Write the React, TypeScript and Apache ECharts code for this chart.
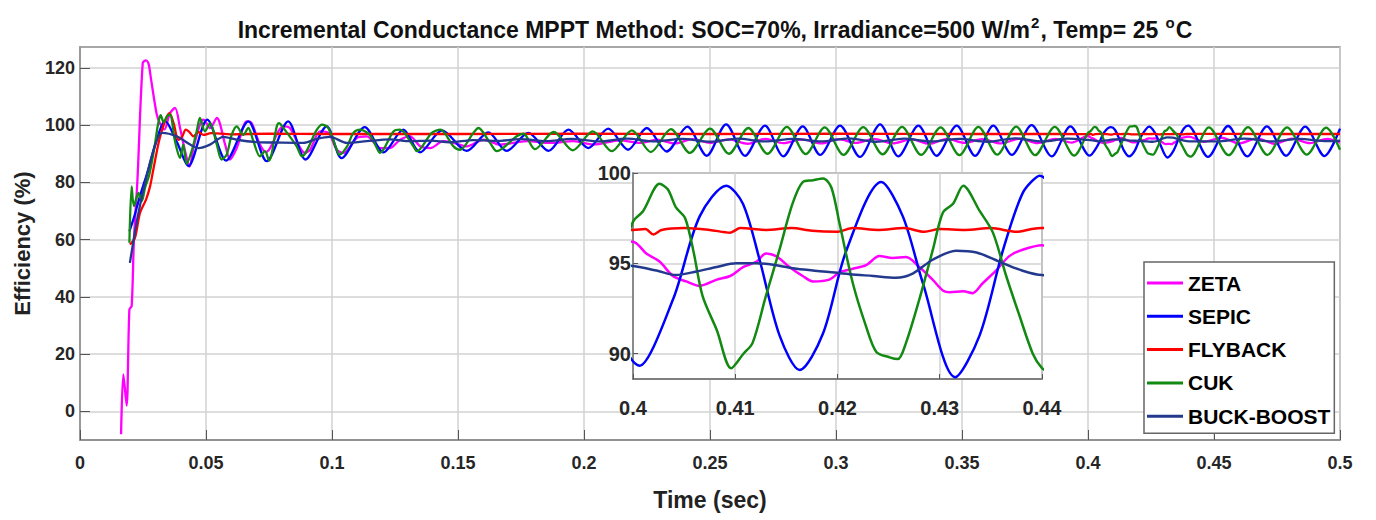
import { useEffect, useRef } from "react";
import * as echarts from "echarts";

// ---------- data ----------
const seriesNames = ["ZETA", "SEPIC", "FLYBACK", "CUK", "BUCK-BOOST"];
const seriesColors = ["#ff00ff", "#0000ff", "#ff0000", "#128a12", "#22398e"];

const yTicks = [0, 20, 40, 60, 80, 100, 120];
const insetYTicks = [90, 95, 100];

const zetaData: number[][] = [
  [0.0163, -8.0], [0.0172, 12.9], [0.0185, 2.0], [0.0196, 35.6], [0.0205, 36.8], [0.0214, 60.0],
  [0.0228, 81.0], [0.0249, 121.7], [0.0262, 122.6], [0.0272, 121.5], [0.0282, 116.0], [0.0304, 104.0],
  [0.0317, 100.7], [0.0335, 98.5], [0.0357, 104.2], [0.0377, 106.0], [0.0397, 99.0], [0.0417, 90.9],
  [0.0435, 85.5], [0.045, 92.0], [0.0476, 100.2], [0.049, 101.9], [0.0516, 99.0], [0.0543, 102.5],
  [0.0576, 93.2], [0.0595, 88.0], [0.0622, 92.0], [0.0662, 101.3], [0.0681, 100.7], [0.0714, 93.2],
  [0.0738, 90.6], [0.0807, 99.6], [0.0833, 99.0], [0.0893, 90.3], [0.0913, 91.4], [0.0953, 97.8],
  [0.0986, 97.3], [0.1019, 91.4], [0.1046, 90.3], [0.1098, 95.5], [0.1138, 96.1], [0.1191, 92.0],
  [0.123, 92.0], [0.127, 94.9], [0.131, 96.1], [0.135, 92.6], [0.139, 92.0], [0.1442, 94.4],
  [0.1482, 93.8], [0.1535, 92.6], [0.1601, 94.9], [0.1667, 93.2], [0.1773, 94.4], [0.1866, 93.8],
  [0.1958, 94.4], [0.2038, 93.2], [0.2143, 94.7], [0.2222, 93.8], [0.229, 94.9], [0.236, 93.6],
  [0.243, 95.1], [0.25, 93.8], [0.2575, 95.0], [0.265, 93.5], [0.272, 95.2], [0.279, 93.7],
  [0.2865, 95.0], [0.294, 93.6], [0.301, 95.1], [0.308, 93.8], [0.315, 95.2], [0.3225, 93.6],
  [0.33, 95.0], [0.337, 93.5], [0.344, 95.2], [0.351, 93.8], [0.358, 95.1], [0.3655, 93.6],
  [0.373, 95.3], [0.38, 93.7], [0.387, 95.2], [0.3935, 93.9],
  [0.4, 96.2], [0.4013, 95.55], [0.4026, 95.1], [0.4039, 94.3], [0.4052, 94.0], [0.4065, 93.75],
  [0.4082, 94.1], [0.4095, 94.3], [0.4108, 94.8], [0.4121, 95.1], [0.413, 95.55], [0.414, 95.4],
  [0.4153, 94.8], [0.4166, 94.3], [0.4176, 94.0], [0.4192, 94.1], [0.4202, 94.5], [0.4215, 94.7],
  [0.4228, 94.9], [0.4241, 95.4], [0.4254, 95.3], [0.4267, 95.35], [0.428, 94.8], [0.4293, 94.1],
  [0.4303, 93.5], [0.431, 93.4], [0.4323, 93.45], [0.4332, 93.35], [0.4342, 93.9], [0.4355, 94.6],
  [0.4368, 95.4], [0.4381, 95.75], [0.44, 96.0],
  [0.446, 94.2], [0.453, 95.6], [0.46, 93.6], [0.467, 95.4], [0.474, 93.5], [0.481, 95.3],
  [0.488, 93.7], [0.495, 95.2], [0.5, 94.0],
];

const sepicData: number[][] = [
  [0.0196, 62.9], [0.0215, 68.0], [0.0238, 75.2], [0.0271, 84.5], [0.0305, 95.0], [0.0337, 101.5],
  [0.0385, 94.0], [0.043, 85.7], [0.0505, 101.9], [0.058, 87.6], [0.0668, 101.3], [0.0741, 87.4],
  [0.0826, 101.3], [0.0895, 88.0], [0.0979, 99.6], [0.1038, 88.5], [0.113, 99.3], [0.1204, 90.5],
  [0.1283, 98.4], [0.1349, 90.5], [0.1437, 98.2], [0.1534, 91.0], [0.162, 97.5], [0.1693, 91.0],
  [0.1779, 97.3], [0.1859, 91.0], [0.1938, 98.4], [0.2017, 92.0], [0.2096, 98.8], [0.2175, 91.4],
  [0.2249, 99.0], [0.2328, 90.8], [0.241, 99.5], [0.2487, 89.3], [0.2564, 100.3], [0.2639, 89.3],
  [0.2718, 99.8], [0.2791, 89.1], [0.2868, 99.6], [0.2937, 89.6], [0.3016, 99.8], [0.3095, 88.9],
  [0.3175, 100.3], [0.3247, 89.1], [0.3327, 99.8], [0.3399, 89.3], [0.3479, 99.8], [0.3552, 89.3],
  [0.3624, 99.8], [0.3698, 89.6], [0.3776, 100.0], [0.3856, 89.1], [0.393, 99.6],
  [0.40065, 89.34], [0.40391, 93.0], [0.40652, 97.6], [0.40913, 99.3], [0.41075, 98.3],
  [0.41238, 95.2], [0.41434, 91.0], [0.4163, 89.1], [0.41857, 91.1], [0.42086, 95.7],
  [0.42428, 99.5], [0.42639, 97.6], [0.42835, 93.9], [0.43151, 88.7], [0.43389, 91.0],
  [0.43617, 95.7], [0.43812, 98.9], [0.43976, 99.85],
  [0.4476, 88.9], [0.4556, 99.7], [0.4632, 89.1], [0.471, 99.6], [0.4786, 89.3], [0.4862, 99.5],
  [0.4938, 89.2], [0.5, 98.8],
];

const flybackData: number[][] = [
  [0.0198, 58.3], [0.0218, 60.6], [0.0238, 69.3], [0.0262, 74.0], [0.0278, 78.6], [0.0291, 84.5],
  [0.0315, 95.0], [0.034, 102.0], [0.0355, 104.2], [0.0372, 100.5], [0.039, 94.9], [0.0405, 96.0],
  [0.042, 98.4], [0.0435, 97.5], [0.045, 96.1], [0.047, 97.6], [0.049, 96.6], [0.052, 97.2],
  [0.06, 96.8], [0.075, 97.0], [0.1, 96.9], [0.15, 96.9], [0.2, 97.0], [0.25, 96.9], [0.3, 97.0],
  [0.35, 96.9], [0.39, 96.9],
  [0.4, 96.85], [0.4012, 96.9], [0.402, 96.6], [0.4028, 96.85], [0.405, 96.95], [0.4075, 96.85],
  [0.4095, 96.7], [0.4105, 96.95], [0.413, 96.85], [0.4155, 96.95], [0.4175, 96.8], [0.42, 96.75],
  [0.4215, 96.95], [0.424, 96.85], [0.4265, 96.95], [0.4285, 96.75], [0.43, 96.9], [0.4325, 96.85],
  [0.435, 96.95], [0.4375, 96.75], [0.439, 96.9], [0.44, 96.95],
  [0.47, 96.9], [0.5, 96.9],
];

const cukData: number[][] = [
  [0.0196, 58.9], [0.0205, 78.6], [0.0214, 71.7], [0.0232, 76.3], [0.0245, 73.4], [0.0258, 78.1],
  [0.0275, 82.7], [0.0295, 92.0], [0.031, 100.5], [0.032, 103.5], [0.0332, 101.0], [0.0345, 103.0],
  [0.0357, 103.7], [0.0377, 94.4], [0.0397, 88.6], [0.041, 93.2], [0.0423, 86.5], [0.0443, 90.9],
  [0.0463, 97.8], [0.0476, 102.5], [0.0496, 97.8], [0.0516, 100.7], [0.0543, 93.2], [0.0562, 88.0],
  [0.0582, 89.7], [0.0602, 96.6], [0.0622, 99.6], [0.0648, 96.6], [0.0668, 99.0], [0.0688, 94.4],
  [0.0714, 89.1], [0.0734, 90.9], [0.075, 87.6], [0.0781, 99.6], [0.079, 100.7], [0.0807, 99.0],
  [0.086, 92.6], [0.088, 89.1], [0.094, 98.4], [0.096, 100.2], [0.0985, 99.0], [0.1019, 91.4],
  [0.103, 89.7], [0.106, 92.6], [0.1085, 97.3], [0.1112, 98.4], [0.115, 96.6], [0.1178, 92.0],
  [0.119, 90.3], [0.1244, 97.8], [0.127, 98.4], [0.1323, 92.6], [0.1337, 90.9], [0.1396, 97.3],
  [0.143, 98.4], [0.1482, 92.6], [0.1508, 91.4], [0.1561, 97.3], [0.1581, 99.0], [0.1627, 93.8],
  [0.1654, 90.9], [0.1733, 96.1], [0.176, 97.0], [0.1805, 91.6], [0.188, 97.6], [0.1955, 91.2],
  [0.2035, 97.8], [0.211, 90.9], [0.219, 98.2], [0.2265, 90.6], [0.2345, 98.6], [0.242, 90.3],
  [0.25, 98.8], [0.2575, 90.0], [0.2652, 99.0], [0.2728, 90.0], [0.2805, 99.4], [0.288, 89.9],
  [0.2955, 99.2], [0.303, 89.6], [0.3108, 99.3], [0.3185, 89.8], [0.3262, 99.4], [0.3338, 89.6],
  [0.3415, 99.2], [0.349, 89.5], [0.3565, 99.4], [0.364, 89.7], [0.3715, 99.5], [0.379, 89.5],
  [0.3868, 99.4], [0.3945, 89.4],
  [0.4, 97.3], [0.401, 97.9], [0.4026, 99.4], [0.4034, 99.1], [0.4042, 98.1], [0.4051, 97.5],
  [0.4059, 95.7], [0.4068, 93.2], [0.4082, 91.3], [0.4096, 89.2], [0.4108, 90.0], [0.4117, 90.6],
  [0.413, 93.2], [0.4143, 95.7], [0.4156, 98.3], [0.4166, 99.5], [0.4176, 99.6], [0.4186, 99.7],
  [0.4194, 99.2], [0.4202, 97.2], [0.4215, 93.9], [0.4228, 91.5], [0.4238, 90.1], [0.4251, 89.8],
  [0.4259, 89.7], [0.4267, 90.6], [0.428, 93.0], [0.4293, 95.7], [0.4303, 97.8], [0.4313, 98.3],
  [0.4323, 99.3], [0.4339, 97.9], [0.4352, 96.7], [0.4365, 94.3], [0.4378, 92.1], [0.4391, 90.0],
  [0.44, 89.2],
  [0.4407, 89.0], [0.448, 99.2], [0.4558, 89.5], [0.4635, 99.3], [0.4712, 89.6], [0.479, 99.2],
  [0.4868, 89.7], [0.4945, 99.1], [0.5, 91.4],
];

const buckBoostData: number[][] = [
  [0.0198, 51.9], [0.0232, 69.3], [0.0271, 84.5], [0.03, 93.5], [0.0325, 97.3], [0.0384, 96.1],
  [0.0437, 93.2], [0.047, 92.0], [0.0516, 93.2], [0.0569, 95.9], [0.0622, 94.9], [0.07, 94.1],
  [0.08, 93.9], [0.0886, 93.8], [0.094, 95.2], [0.0992, 95.9], [0.1059, 93.8], [0.1138, 94.4],
  [0.123, 95.0], [0.131, 94.4], [0.139, 94.6], [0.1468, 94.0], [0.156, 94.8], [0.165, 94.5],
  [0.175, 95.1], [0.185, 94.4], [0.195, 95.2], [0.206, 94.3], [0.217, 95.3], [0.228, 94.3],
  [0.239, 95.2], [0.25, 94.2], [0.261, 95.3], [0.272, 94.3], [0.283, 95.2], [0.294, 94.3],
  [0.305, 95.4], [0.316, 94.2], [0.327, 95.3], [0.338, 94.3], [0.349, 95.2], [0.36, 94.2],
  [0.371, 95.4], [0.382, 94.3], [0.392, 95.3],
  [0.4, 94.85], [0.4023, 94.6], [0.4042, 94.35], [0.4062, 94.55], [0.4082, 94.8], [0.4101, 95.0],
  [0.4121, 95.0], [0.414, 94.9], [0.416, 94.7], [0.4186, 94.55], [0.4212, 94.4], [0.4235, 94.3],
  [0.4257, 94.2], [0.4274, 94.45], [0.4293, 95.2], [0.4316, 95.7], [0.4336, 95.6], [0.4358, 95.1],
  [0.4378, 94.65], [0.44, 94.35],
  [0.451, 94.3], [0.462, 95.3], [0.473, 94.3], [0.484, 95.2], [0.495, 94.4], [0.5, 94.6],
];

const allData = [zetaData, sepicData, flybackData, cukData, buckBoostData];

// ---------- chart ----------
const FONT = "'Liberation Sans', Arial, Helvetica, sans-serif";

export default function App() {
  const ref = useRef<HTMLDivElement>(null);

  useEffect(() => {
    if (!ref.current) return;
    const chart = echarts.init(ref.current, undefined, { renderer: "svg" });

    const fmt = (v: number) => String(Number(v.toFixed(3)));

    const mainSeries = allData.map((d, i) => ({
      type: "line",
      name: seriesNames[i],
      data: d,
      xAxisIndex: 0,
      yAxisIndex: 0,
      showSymbol: false,
      symbol: "none",
      smooth: 0.3,
      silent: true,
      z: 2 + i * 0.01,
      lineStyle: { color: seriesColors[i], width: 2.3 },
      itemStyle: { color: seriesColors[i] },
    }));
    const insetSeries = allData.map((d, i) => ({
      type: "line",
      name: seriesNames[i],
      data: d,
      xAxisIndex: 1,
      yAxisIndex: 1,
      showSymbol: false,
      symbol: "none",
      smooth: 0.3,
      silent: true,
      z: 12,
      lineStyle: { color: seriesColors[i], width: 2.5 },
      itemStyle: { color: seriesColors[i] },
    }));

    const option: any = {
      animation: false,
      backgroundColor: "#ffffff",
      textStyle: { fontFamily: FONT },
      title: {
        text:
          "{t|Incremental Conductance MPPT Method: SOC=70%, Irradiance=500 W/m}{s|2}{t|, Temp= 25 }{s|o}{t|C}",
        left: 710,
        top: 10,
        textAlign: "center",
        textStyle: {
          rich: {
            t: { fontSize: 23, fontWeight: "bold", color: "#111", fontFamily: FONT },
            s: {
              fontSize: 15,
              fontWeight: "bold",
              color: "#111",
              fontFamily: FONT,
              padding: [0, 1, 14, 1],
            },
          },
        },
      },
      legend: {
        data: seriesNames,
        orient: "vertical",
        left: 1144,
        top: 262,
        icon: "rect",
        itemWidth: 36,
        itemHeight: 3,
        itemGap: 11.3,
        selectedMode: false,
        padding: [10, 4, 6, 3],
        backgroundColor: "#ffffff",
        borderColor: "#666666",
        borderWidth: 1.5,
        borderRadius: 0,
        z: 20,
        textStyle: {
          fontSize: 21,
          fontWeight: "bold",
          color: "#000",
          fontFamily: FONT,
          lineHeight: 22,
          padding: [0, 0, 0, 0],
        },
      },
      grid: [
        {
          left: 80,
          top: 47,
          width: 1260,
          height: 393,
          show: true,
          borderColor: "#8a8a8a",
          borderWidth: 1.5,
          backgroundColor: "transparent",
          containLabel: false,
          outerBoundsMode: "none",
        },
        {
          left: 633,
          top: 173,
          width: 409,
          height: 206,
          show: true,
          borderColor: "#777777",
          borderWidth: 1.5,
          backgroundColor: "#ffffff",
          containLabel: false,
          outerBoundsMode: "none",
          z: 10,
        },
      ],
      xAxis: [
        {
          type: "value",
          gridIndex: 0,
          min: 0,
          max: 0.5,
          interval: 0.05,
          name: "Time (sec)",
          nameLocation: "middle",
          nameGap: 48,
          nameTextStyle: { fontSize: 23, fontWeight: "bold", color: "#222", fontFamily: FONT },
          axisLine: { show: true, onZero: false, lineStyle: { color: "#8a8a8a", width: 1.5 } },
          axisTick: { show: true, inside: true, length: 10, lineStyle: { color: "#555", width: 1 } },
          axisLabel: {
            fontSize: 18,
            fontWeight: "bold",
            color: "#262626",
            margin: 14,
            showMinLabel: true,
            showMaxLabel: true,
            formatter: fmt,
          },
          splitLine: { show: true, lineStyle: { color: "#d2d2d2", width: 1.5 } },
        },
        {
          type: "value",
          gridIndex: 1,
          min: 0.4,
          max: 0.44,
          interval: 0.01,
          z: 10,
          axisLine: { show: true, onZero: false, lineStyle: { color: "#777", width: 1.5 } },
          axisTick: { show: true, inside: true, length: 5, lineStyle: { color: "#555" } },
          axisLabel: {
            fontSize: 20,
            fontWeight: "bold",
            color: "#262626",
            margin: 19,
            showMinLabel: true,
            showMaxLabel: true,
            formatter: fmt,
          },
          splitLine: { show: true, lineStyle: { color: "#d2d2d2", width: 1.5 } },
        },
      ],
      yAxis: [
        {
          type: "value",
          gridIndex: 0,
          min: -10,
          max: 127.3,
          name: "Efficiency (%)",
          nameLocation: "middle",
          nameGap: 47,
          nameRotate: 90,
          nameTextStyle: { fontSize: 22, fontWeight: "bold", color: "#222", fontFamily: FONT },
          axisLine: { show: true, onZero: false, lineStyle: { color: "#8a8a8a", width: 1.5 } },
          axisTick: {
            show: true,
            inside: true,
            length: 10,
            customValues: yTicks,
            lineStyle: { color: "#555", width: 1 },
          },
          axisLabel: {
            fontSize: 18,
            fontWeight: "bold",
            color: "#262626",
            margin: 5,
            customValues: yTicks,
            showMinLabel: true,
            showMaxLabel: true,
          },
          splitLine: { show: true, lineStyle: { color: "#d2d2d2", width: 1.5 } },
        },
        {
          type: "value",
          gridIndex: 1,
          min: 88.6,
          max: 100,
          z: 10,
          axisLine: { show: true, onZero: false, lineStyle: { color: "#777", width: 1.5 } },
          axisTick: {
            show: true,
            inside: true,
            length: 5,
            customValues: insetYTicks,
            lineStyle: { color: "#555" },
          },
          axisLabel: {
            fontSize: 20,
            fontWeight: "bold",
            color: "#262626",
            margin: 2,
            customValues: insetYTicks,
            showMinLabel: true,
            showMaxLabel: true,
          },
          splitLine: { show: true, lineStyle: { color: "#d2d2d2", width: 1.5 } },
        },
      ],
      series: [...mainSeries, ...insetSeries],
    };

    chart.setOption(option);
    return () => chart.dispose();
  }, []);

  return (
    <div
      ref={ref}
      style={{ position: "fixed", left: 0, top: 0, width: 1376, height: 520, background: "#fff" }}
    />
  );
}
